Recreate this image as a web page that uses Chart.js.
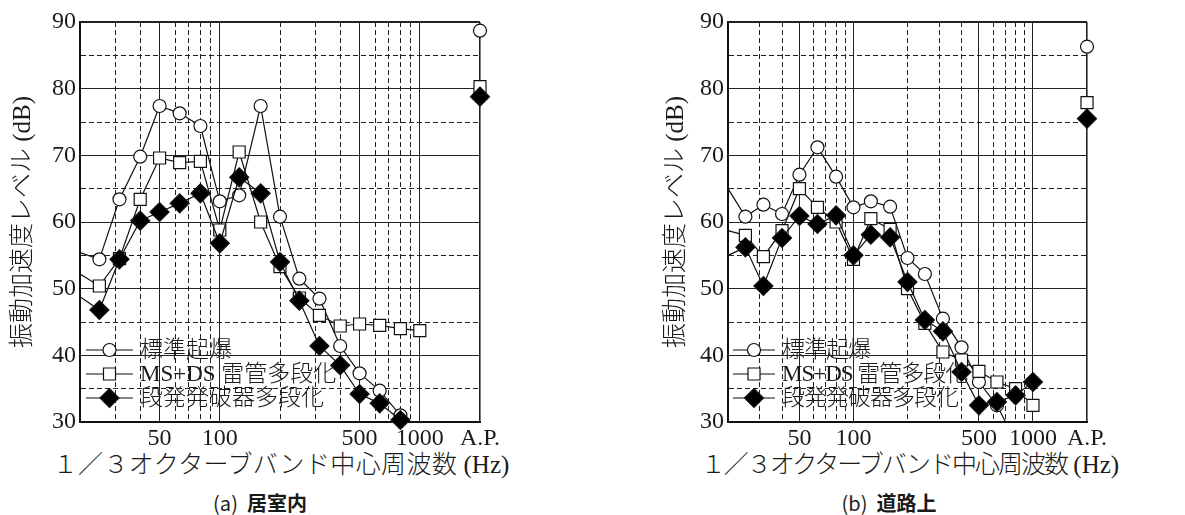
<!DOCTYPE html>
<html lang="ja">
<head>
<meta charset="utf-8">
<title>振動加速度レベル</title>
<script src="https://cdn.jsdelivr.net/npm/chart.js@4.4.1/dist/chart.umd.min.js"></script>
<style>
  html, body { margin: 0; padding: 0; background: #fff; }
  #page { position: relative; width: 1185px; height: 515px; overflow: hidden; background: #fff; }
  .panel { position: absolute; top: 0; height: 450px; }
  .xtitle {
    position: absolute; top: 451px; width: 520px; height: 28px; line-height: 28px;
    font-family: 'Liberation Serif', 'Noto Sans CJK JP', serif; font-size: 25px; font-weight: 300;
    color: #1a1a1a; white-space: nowrap; text-align: center;
  }
  .xtitle .unit { letter-spacing: 0; }
  .caption {
    position: absolute; top: 492px; width: 200px; height: 22px; line-height: 22px;
    font-family: 'Noto Sans CJK JP', sans-serif; font-size: 20px;
    color: #1a1a1a; white-space: nowrap; text-align: center;
  }
  .caption b { font-weight: 700; margin-left: 9px; }
</style>
</head>
<body>
<div id="page">
  <div class="panel" style="left:0;width:600px"><canvas id="chartIndoor" width="600" height="450"></canvas></div>
  <div class="panel" style="left:600px;width:585px"><canvas id="chartRoad" width="585" height="450"></canvas></div>
  <div class="xtitle" style="left:21px;letter-spacing:0.4px">１／３オクターブバンド中心周波数<span class="unit"> (Hz)</span></div>
  <div class="xtitle" style="left:650px;letter-spacing:-2px">１／３オクターブバンド中心周波数<span class="unit"> (Hz)</span></div>
  <div class="caption" style="left:160px">(a)<b>居室内</b></div>
  <div class="caption" style="left:789px">(b)<b>道路上</b></div>
</div>
<script>
// 1/3 octave band centre frequencies (Hz); the overall value (A.P.) sits at the right edge
const freqBands = [20, 25, 31.5, 40, 50, 63, 80, 100, 125, 160, 200, 250, 315, 400, 500, 630, 800, 1000];
const apPosition = 2000;
const seriesNames = ['標準起爆', 'MS+DS 雷管多段化', '段発発破器多段化'];

// (a) 居室内  [dB]
const indoorStandard = [55.4, 54.4, 63.4, 69.8, 77.4, 76.3, 74.4, 63.1, 64.0, 77.4, 60.8, 51.5, 48.5, 41.4, 37.3, 34.7, 31.0, null];
const indoorMsDs     = [52.2, 50.4, 54.5, 63.4, 69.6, 68.9, 69.1, 58.8, 70.5, 60.0, 53.3, 48.6, 46.0, 44.4, 44.7, 44.5, 44.0, 43.7];
const indoorStepped  = [48.8, 46.8, 54.4, 60.2, 61.5, 62.8, 64.3, 56.8, 66.7, 64.3, 54.0, 48.2, 41.4, 38.5, 34.2, 32.8, 30.3, null];
const indoorAP       = [88.7, 80.3, 78.8];

// (b) 道路上  [dB]
const roadStandard = [65.0, 60.8, 62.6, 61.2, 67.1, 71.2, 66.8, 62.2, 63.1, 62.3, 54.6, 52.2, 45.5, 41.2, 36.0, 32.5, 27.1, null];
const roadMsDs     = [58.7, 58.0, 54.8, 58.7, 65.0, 62.2, 60.0, 54.4, 60.5, 58.9, 50.0, 44.8, 40.5, 39.3, 37.6, 36.0, 35.0, 32.5];
const roadStepped  = [55.0, 56.2, 50.4, 57.6, 60.9, 59.7, 61.0, 55.0, 58.1, 57.7, 51.0, 45.3, 43.6, 37.5, 32.5, 33.0, 34.0, 36.0];
const roadAP       = [86.3, 77.9, 75.5];

// axis ticks and grid
const xGridValues = [20, 30, 40, 50, 60, 70, 80, 90, 100, 200, 300, 400, 500, 600, 700, 800, 900, 1000, 2000];
const xTickLabels = { 50: '50', 100: '100', 500: '500', 1000: '1000', 2000: 'A.P.' };
const xSolidGrid = [50, 100, 500, 1000];
const yGridValues = [30, 35, 40, 45, 50, 55, 60, 65, 70, 75, 80, 85, 90];
const yTickLabels = [30, 40, 50, 60, 70, 80, 90];

const SERIF = "'Liberation Serif', 'Noto Sans CJK JP', serif";
const INK = '#1a1a1a';
const markerStyles = [
  { pointStyle: 'circle',  radius: 6.5, fill: '#ffffff', order: 3 },
  { pointStyle: 'rect',    radius: 8.5, fill: '#ffffff', order: 2 },
  { pointStyle: 'rectRot', radius: 9.5, fill: '#000000', order: 1 }
];

// legend drawn inside the plot area, lower left
const inPlotLegend = {
  id: 'inPlotLegend',
  afterDatasetsDraw(chart, args, opts) {
    const ctx = chart.ctx;
    ctx.save();
    let row = 0;
    chart.data.datasets.forEach(ds => {
      if (ds.isAP) return;
      const y = opts.rows[row++];
      ctx.setLineDash([]);
      ctx.strokeStyle = '#111';
      ctx.lineWidth = 1.2;
      ctx.beginPath();
      ctx.moveTo(opts.lineStart, y);
      ctx.lineTo(opts.lineEnd, y);
      ctx.stroke();
      ctx.fillStyle = ds.pointBackgroundColor;
      ctx.strokeStyle = ds.pointBorderColor;
      ctx.lineWidth = ds.pointBorderWidth;
      Chart.helpers.drawPoint(ctx, {
        pointStyle: ds.pointStyle, radius: ds.markerRadius, rotation: 0, borderWidth: ds.pointBorderWidth
      }, (opts.lineStart + opts.lineEnd) / 2, y);
      ctx.fillStyle = INK;
      ctx.font = opts.font;
      if ('letterSpacing' in ctx) ctx.letterSpacing = opts.letterSpacing;
      ctx.textAlign = 'left';
      ctx.textBaseline = 'middle';
      ctx.fillText(ds.label, opts.textX, y + 1);
    });
    ctx.restore();
  }
};

function buildChart(canvasId, seriesValues, apValues, cfg) {
  const datasets = [];
  seriesValues.forEach((vals, s) => {
    const m = markerStyles[s];
    datasets.push({
      label: seriesNames[s],
      data: vals.map((v, i) => ({ x: freqBands[i], y: v })),
      borderColor: '#111',
      borderWidth: 1.2,
      pointStyle: m.pointStyle,
      pointRadius: c => (c.dataIndex === 0 ? 0 : m.radius),
      markerRadius: m.radius,
      pointBackgroundColor: m.fill,
      pointBorderColor: '#111',
      pointBorderWidth: 1.2,
      tension: 0,
      spanGaps: false,
      order: m.order,
      clip: cfg.clips[s]
    });
  });
  apValues.forEach((v, s) => {
    const m = markerStyles[s];
    datasets.push({
      label: seriesNames[s] + ' A.P.',
      isAP: true,
      data: [{ x: apPosition, y: v }],
      showLine: false,
      pointStyle: m.pointStyle,
      pointRadius: m.radius,
      pointBackgroundColor: m.fill,
      pointBorderColor: '#111',
      pointBorderWidth: 1.2,
      order: m.order,
      clip: false
    });
  });

  return new Chart(document.getElementById(canvasId), {
    type: 'line',
    data: { datasets },
    plugins: [inPlotLegend],
    options: {
      responsive: false,
      animation: false,
      devicePixelRatio: 1,
      events: [],
      layout: { padding: cfg.padding },
      plugins: {
        legend: { display: false },
        tooltip: { enabled: false },
        inPlotLegend: cfg.legend
      },
      scales: {
        x: {
          type: 'logarithmic',
          min: 20,
          max: apPosition,
          afterBuildTicks: s => { s.ticks = xGridValues.map(v => ({ value: v })); },
          afterFit: s => { s.height = 28; },
          ticks: {
            autoSkip: false, maxRotation: 0, minRotation: 0, padding: 2, color: INK,
            font: { family: SERIF, size: 24 },
            callback: v => xTickLabels[v] || ''
          },
          grid: {
            drawTicks: false,
            color: c => (c.tick && c.tick.value === 20 ? 'rgba(0,0,0,0)' : '#222'),
            lineWidth: c => (c.tick && c.tick.value === apPosition ? 1.6 : 1)
          },
          border: {
            display: true, color: '#111', width: 2,
            dash: c => (c.tick && !xSolidGrid.includes(c.tick.value) && c.tick.value !== apPosition ? [5, 3] : [])
          }
        },
        y: {
          min: 30,
          max: 90,
          afterBuildTicks: s => { s.ticks = yGridValues.map(v => ({ value: v })); },
          afterFit: s => { s.width = 80; },
          ticks: {
            padding: 4, color: INK,
            font: { family: SERIF, size: 24 },
            callback: v => (yTickLabels.includes(v) ? String(v) : '')
          },
          grid: {
            drawTicks: false,
            color: c => (c.tick && c.tick.value === 30 ? 'rgba(0,0,0,0)' : '#222'),
            lineWidth: c => (c.tick && c.tick.value === 90 ? 2 : 1)
          },
          border: {
            display: true, color: '#111', width: 2,
            dash: c => (c.tick && c.tick.value % 10 !== 0 ? [5, 3] : [])
          },
          title: {
            display: true,
            text: '振動加速度レベル (dB)',
            color: INK,
            font: { family: SERIF, size: 25, weight: '300' },
            padding: { top: cfg.yTitlePad, bottom: 0 }
          }
        }
      }
    }
  });
}

buildChart('chartIndoor', [indoorStandard, indoorMsDs, indoorStepped], indoorAP, {
  padding: { left: 0, right: 120, top: 22, bottom: 0 },
  yTitlePad: 8,
  clips: [false, false, false],
  legend: {
    lineStart: 86, lineEnd: 133, textX: 140, rows: [350, 374, 398],
    font: "300 23px 'Liberation Serif', 'Noto Sans CJK JP', serif", letterSpacing: '0px'
  }
});

buildChart('chartRoad', [roadStandard, roadMsDs, roadStepped], roadAP, {
  padding: { left: 48, right: 98, top: 22, bottom: 0 },
  yTitlePad: 13,
  clips: [{ left: false, top: false, right: false, bottom: 0 }, false, false],
  legend: {
    lineStart: 133, lineEnd: 175, textX: 182, rows: [350, 374, 398],
    font: "300 23px 'Liberation Serif', 'Noto Sans CJK JP', serif", letterSpacing: '-1px'
  }
});
</script>
</body>
</html>
